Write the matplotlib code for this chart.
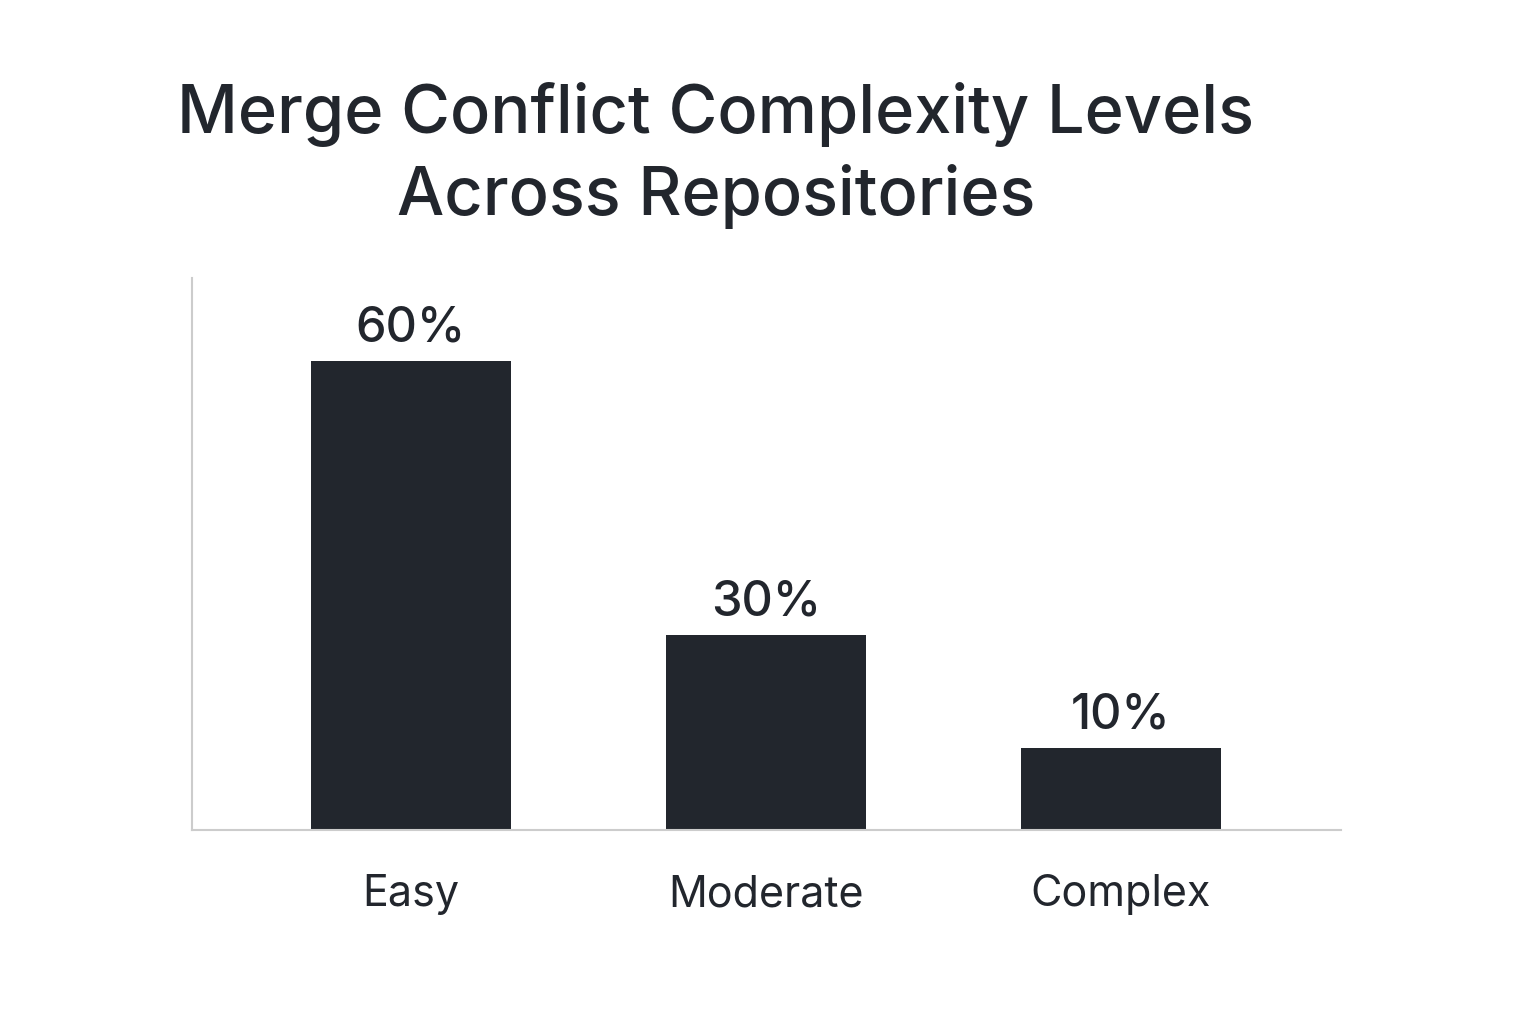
import matplotlib.pyplot as plt

categories = ['Easy', 'Moderate', 'Complex']
# bar heights as drawn in the picture (labels are shown separately)
heights = [60, 25, 10.5]
labels = ['60%', '30%', '10%']

plt.rcParams['font.family'] = ['Inter', 'DejaVu Sans']
dark = '#22262d'

fig = plt.figure(figsize=(15.36, 10.24), dpi=100)
ax = fig.add_axes([0.125, 0.1895, 0.748, 0.539])
x = range(len(categories))
ax.bar(x, heights, width=0.563, color=dark)
for i, v in enumerate(heights):
    ax.text(i, v + 1.2, labels[i], ha='center', va='bottom', fontsize=35,
            color=dark, fontweight='medium')
ax.set_xlim(-0.617, 2.62)
ax.set_ylim(0, 70.6)
ax.set_xticks(list(x))
ax.set_xticklabels(categories, fontsize=31, color=dark)
ax.tick_params(axis='x', length=0, pad=32)
ax.set_yticks([])
for s in ['top', 'right']:
    ax.spines[s].set_visible(False)
for s in ['left', 'bottom']:
    ax.spines[s].set_color('#cccccc')
    ax.spines[s].set_linewidth(1.5)

fig.text(0.466, 0.848, 'Merge Conflict Complexity Levels\nAcross Repositories',
         ha='center', va='center', fontsize=48, color=dark, linespacing=1.32,
         fontweight='medium')

fig.savefig('out.png', dpi=100)
